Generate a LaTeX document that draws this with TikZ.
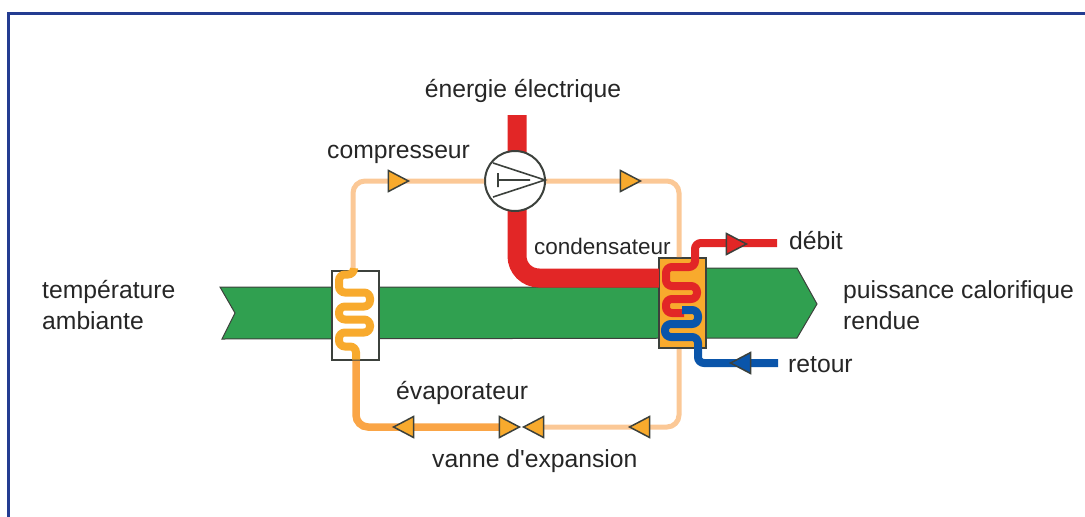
\documentclass[tikz,border=0pt]{standalone}
\usepackage{fontspec}
\setmainfont{Liberation Sans}
\usetikzlibrary{positioning,shapes.geometric,calc}
\definecolor{Frame}{RGB}{35,60,145}
\definecolor{Band}{RGB}{48,160,80}
\definecolor{Hot}{RGB}{226,38,38}
\definecolor{Cold}{RGB}{10,85,170}
\definecolor{Amber}{RGB}{248,170,45}
\definecolor{Pale}{RGB}{251,200,150}
\definecolor{Fluid}{RGB}{250,165,70}
\definecolor{Ink}{RGB}{60,65,60}

\begin{document}
\begin{tikzpicture}[x=1pt,y=-1pt,
 lbl/.style={font=\fontsize{24.7}{31}\selectfont,text=black!85,inner sep=0pt,align=left},
 box/.style={draw=Ink,line width=2pt,minimum width=47pt,minimum height=89pt,inner sep=0pt},
 pipe/.style={line width=5pt,Pale,rounded corners=12pt},
 coil/.style={line width=8pt,rounded corners=6pt},
 tip/.style={isosceles triangle,isosceles triangle apex angle=56,isosceles triangle stretches,draw=Ink,line width=1.5pt,fill=Amber,minimum width=21pt,minimum height=20pt,inner sep=0pt,anchor=apex}]
\useasboundingbox (0,0) rectangle (1085,517);
\draw[Frame,line width=3pt] (8.5,517) -- (8.5,13) -- (1085,13);
% band
\draw[Ink,line width=1pt,fill=Band] (220,287) -- (660,287) -- (660,268) -- (797,268) -- (817,304) -- (797,338) -- (222,339) -- (235,313) -- cycle;
% exchangers
\node[box,fill=white] (evap) at (355,315) {};
\node[box,fill=Amber,minimum height=90pt] (cond) at (682,303) {};
% coordinates for free ends
\coordinate (elec) at (517,115);
\coordinate (condin) at (659,278);
\coordinate (valvel) at (505,427);
\coordinate (valver) at (537,427);
\coordinate (hotout) at (777,243);
\coordinate (coldin) at (778,363);
% pipes
\draw[Hot,line width=19pt,rounded corners=22pt] (elec) |- (condin);
\node[circle,draw=Ink,line width=2pt,fill=white,minimum size=60pt,inner sep=0pt] (comp) at (515,181) {};
\draw[pipe] ([xshift=-2pt]evap.north) |- (comp.west);
\draw[pipe] (comp.east) -| ([xshift=-3pt]cond.north);
\draw[pipe] ([xshift=-3pt]cond.south) |- (valver);
\draw[pipe,Fluid,line width=7.5pt] (valvel) -| ([xshift=1pt]evap.south);
\draw[Ink,line width=1.6pt] (493,163) -- (545,180) -- (493,197) (497,180) -- (530,180) (498,173) -- (498,187);
% coils
\draw[coil,Amber] ([xshift=-1pt]evap.north) -- ++(0,5) -- ++(-15,0) -- ++(0,18) -- ++(31,0) -- ++(0,14) -- ++(-31,0) -- ++(0,13) -- ++(31,0) -- ++(0,13) -- ++(-31,0) -- ++(0,14) -- ++(17,0) -- ++(0,13);
\draw[coil,Hot] (hotout) -| (695,267) -- (666,267) -- (666,286) -- (697,286) -- (697,299) -- (666,299) -- (666,313) -- (684,313);
\draw[coil,Cold] (coldin) -| (698,337) -- (665,337) -- (665,324) -- (698,324) -- (698,310) -- (682,310);
% flow direction
\node[tip] (tipa) at (410,181) {};
\node[tip] (tipb) at (642,181) {};
\node[tip,fill=Hot] (tiphot) at (748,244) {};
\node[tip,fill=Cold,shape border rotate=180] (tipcold) at (729,363) {};
\node[tip,shape border rotate=180] (tipc) at (628,427) {};
\node[tip] (valvea) at (521,427) {};
\node[tip,shape border rotate=180] (valveb) at (522,427) {};
\node[tip,shape border rotate=180] (tipd) at (392,427) {};
% labels
\node[lbl,anchor=base] (power) at (523,97) {énergie électrique};
\node[lbl,anchor=base west] (complbl) at (327,158) {compresseur};
\node[lbl,anchor=base west,font=\fontsize{22.5}{28}\selectfont] (condlbl) at (534,254) {condensateur};
\node[lbl,anchor=base west] (flow) at (789,249) {débit};
\node[lbl,anchor=base west] (back) at (788,372) {retour};
\node[lbl,anchor=west] (output) at (843,305) {puissance calorifique\\rendue};
\node[lbl,anchor=west] (ambient) at (42,305) {température\\ambiante};
\node[lbl,anchor=base west] (evaplbl) at (396,399) {évaporateur};
\node[lbl,anchor=base west] (valvelbl) at (432,467) {vanne d\textquotesingle expansion};
\end{tikzpicture}
\end{document}
